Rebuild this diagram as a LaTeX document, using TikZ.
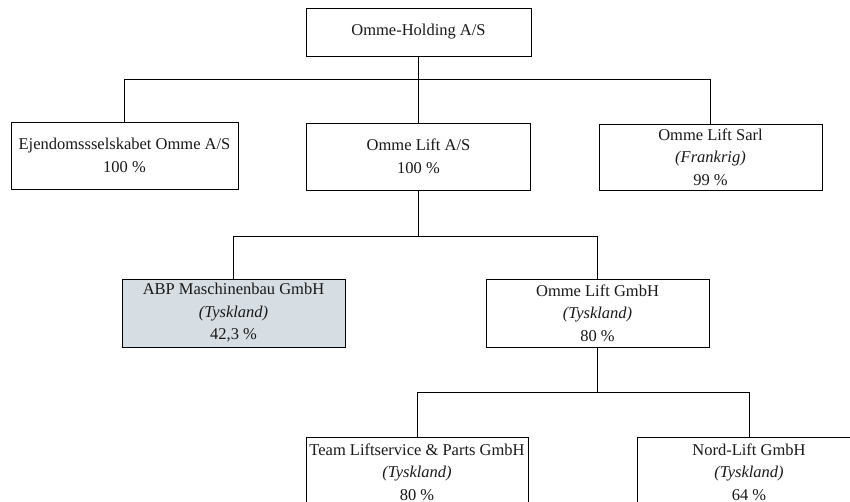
\documentclass[tikz,border=0pt]{standalone}
\usepackage{fontspec}
\setmainfont{Liberation Serif}
\definecolor{abpfill}{RGB}{214,222,228}
\begin{document}
\begin{tikzpicture}[x=1pt,y=-1pt,
  box/.style={draw=black,line width=0.9pt,fill=white,align=center,inner sep=2pt,
    font=\fontsize{16.5}{22.5}\selectfont,text=black!90},
  conn/.style={draw=black,line width=0.9pt}]
\useasboundingbox (0,0) rectangle (850,501);
\clip (0,0) rectangle (850,501);
\node[box,minimum width=225pt,minimum height=48pt] (top) at (418.5,32) {Omme-Holding A/S};
\node[box,minimum width=224pt,minimum height=67pt] (ola) at (418.5,156.5) {Omme Lift A/S\\100 \%};
\node[box,minimum width=227pt,minimum height=67pt] (ejd) at (124.5,155.5) {Ejendomssselskabet Omme A/S\\100 \%};
\node[box,minimum width=223pt,minimum height=66pt] (sarl) at (710.5,157) {Omme Lift Sarl\\\textit{(Frankrig)}\\99 \%};
\node[box,fill=abpfill,minimum width=223pt,minimum height=68pt] (abp) at (233.5,313) {ABP Maschinenbau GmbH\\\textit{(Tyskland)}\\42,3 \%};
\node[box,minimum width=223pt,minimum height=68pt] (olg) at (597.5,313) {Omme Lift GmbH\\\textit{(Tyskland)}\\80 \%};
\node[box,minimum width=222pt,minimum height=70pt] (team) at (417,472) {Team Liftservice \& Parts GmbH\\\textit{(Tyskland)}\\80 \%};
\node[box,minimum width=224pt,minimum height=70pt] (nord) at (749,472) {Nord-Lift GmbH\\\textit{(Tyskland)}\\64 \%};
\coordinate (b1) at (0,79);
\coordinate (b2) at (0,236);
\coordinate (b3) at (0,392);
\draw[conn] (top.south) -- (top.south |- ola.north);
\draw[conn] (ejd.north) |- (b1 -| sarl.north) -- (sarl.north);
\draw[conn] (ola.south) -- (ola.south |- b2);
\draw[conn] (abp.north) |- (b2 -| olg.north) -- (olg.north);
\draw[conn] (olg.south) -- (olg.south |- b3);
\draw[conn] (team.north) |- (b3 -| nord.north) -- (nord.north);
\end{tikzpicture}
\end{document}
